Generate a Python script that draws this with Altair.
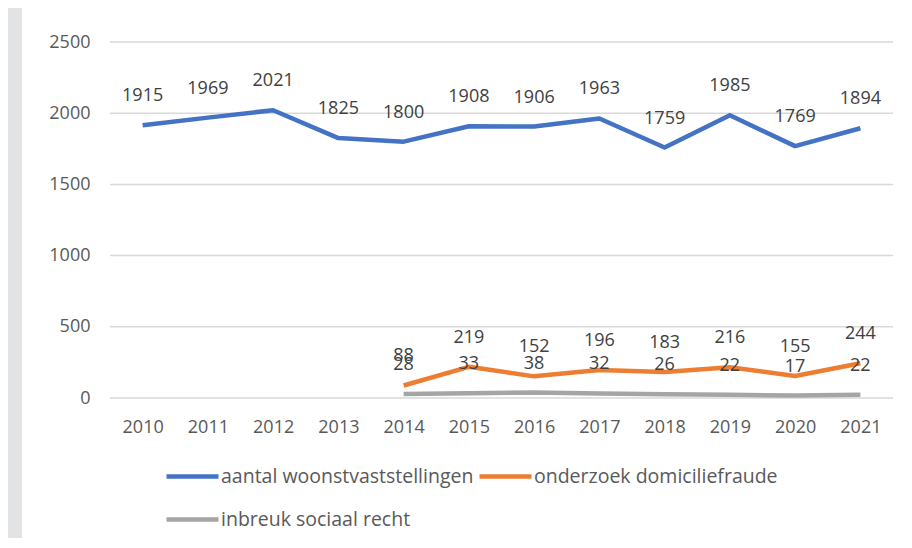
import altair as alt
import pandas as pd

years = ["2010", "2011", "2012", "2013", "2014", "2015", "2016", "2017", "2018", "2019", "2020", "2021"]
series_names = ["aantal woonstvaststellingen", "onderzoek domiciliefraude", "inbreuk sociaal recht"]
woonst = [1915, 1969, 2021, 1825, 1800, 1908, 1906, 1963, 1759, 1985, 1769, 1894]
domicilie_years = ["2014", "2015", "2016", "2017", "2018", "2019", "2020", "2021"]
domicilie = [88, 219, 152, 196, 183, 216, 155, 244]
sociaal = [28, 33, 38, 32, 26, 22, 17, 22]
y_ticks = [0, 500, 1000, 1500, 2000, 2500]
colors = ["#4472C4", "#ED7D31", "#A5A5A5"]

rows = []
for y, v in zip(years, woonst):
    rows.append({"jaar": y, "reeks": series_names[0], "waarde": v})
for y, v in zip(domicilie_years, domicilie):
    rows.append({"jaar": y, "reeks": series_names[1], "waarde": v})
for y, v in zip(domicilie_years, sociaal):
    rows.append({"jaar": y, "reeks": series_names[2], "waarde": v})
df = pd.DataFrame(rows)

FONT = "Open Sans"

x_enc = alt.X("jaar:O", sort=years, scale=alt.Scale(domain=years, paddingInner=0, paddingOuter=0.5),
              axis=alt.Axis(title=None, labelAngle=0, labelFontSize=18, labelFont=FONT,
                            labelColor="#595959", labelPadding=29, labelBaseline="middle",
                            ticks=False, domain=False, grid=False, zindex=1))
y_scale = alt.Scale(domain=[0, 2500], nice=False)
y_enc = alt.Y("waarde:Q", scale=y_scale,
              axis=alt.Axis(title=None, values=y_ticks, format="d", labelFontSize=18,
                            labelFont=FONT, labelColor="#595959", labelPadding=20, ticks=False,
                            domain=False, grid=False, zindex=1))

panel = alt.Chart(pd.DataFrame({"a": [0]})).mark_rect(color="white").encode(
    x=alt.value(-88), x2=alt.value(794), y=alt.value(-34), y2=alt.value(498)
)

grid = alt.Chart(pd.DataFrame({"waarde": y_ticks})).mark_rule(color="#d9d9d9", strokeWidth=1.5).encode(
    y=alt.Y("waarde:Q", scale=y_scale), x=alt.value(0), x2=alt.value(783)
)

base = alt.Chart(df)
lines = base.mark_line(strokeWidth=4.5, strokeJoin="round").encode(
    x=x_enc, y=y_enc,
    color=alt.Color("reeks:N", sort=series_names,
                    scale=alt.Scale(domain=series_names, range=colors),
                    legend=alt.Legend(title=None, orient="none", legendX=54, legendY=406,
                                      direction="horizontal", columns=2, symbolType="stroke",
                                      symbolSize=2704, symbolStrokeWidth=4.5, labelFont=FONT,
                                      labelFontSize=19.5, labelColor="#595959", labelOffset=0,
                                      labelLimit=400, columnPadding=-4, rowPadding=5)),
    detail="reeks:N",
)
labels = base.mark_text(dy=-29, fontSize=18, font=FONT, color="#404040", baseline="middle").encode(
    x=alt.X("jaar:O", sort=years), y="waarde:Q", text="waarde:Q"
)

chart = alt.layer(panel, grid, lines, labels).properties(
    width=783, height=356,
    autosize=alt.AutoSizeParams(type="none"),
    padding={"left": 102, "top": 34, "right": 11, "bottom": 140},
    background="#e2e3e5",
).configure_view(stroke=None)

chart.save("out.html", embed_options={"renderer": "svg", "actions": False})
